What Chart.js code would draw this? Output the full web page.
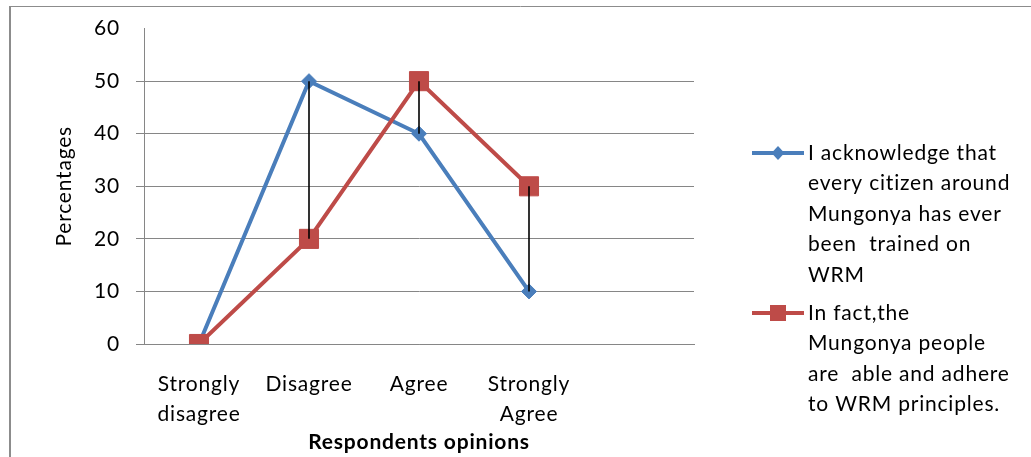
<!DOCTYPE html>
<html>
<head>
<meta charset="utf-8">
<script src="https://cdn.jsdelivr.net/npm/chart.js@4"></script>
<style>
  html, body { margin: 0; padding: 0; background: #ffffff; }
  #wrap { position: relative; width: 1031px; height: 457px; }
</style>
</head>
<body>
<div id="wrap"><canvas id="chart" width="1031" height="457"></canvas></div>
<script>
// Survey responses (percent of respondents per opinion)
const categories = [['Strongly', 'disagree'], 'Disagree', 'Agree', ['Strongly', 'Agree'], ''];
const acknowledgeValues = [0, 50, 40, 10, null];
const adhereValues = [0, 20, 50, 30, null];
const yTickValues = [0, 10, 20, 30, 40, 50, 60];
const acknowledgeName = ['I acknowledge that', 'every citizen around', 'Mungonya has ever', 'been  trained on', 'WRM'];
const adhereName = ['In fact,the', 'Mungonya people', 'are  able and adhere', 'to WRM principles.'];
const xAxisTitle = 'Respondents opinions';
const yAxisTitle = 'Percentages';

const FONT = 'Lato';
const FONT_SIZE = 21;
const SPACING = '0.8px';
const BLUE = '#4A7EBB';
const RED = '#BE4B48';
const GRID = '#868686';

// Outer frame of the chart object
const framePlugin = {
  id: 'frame',
  beforeDraw(chart) {
    const ctx = chart.ctx;
    ctx.letterSpacing = SPACING;
    ctx.save();
    ctx.strokeStyle = '#8c8c8c';
    ctx.lineWidth = 2;
    ctx.beginPath();
    ctx.moveTo(10, 6);
    ctx.lineTo(10, chart.height);
    ctx.stroke();
    ctx.lineWidth = 1;
    ctx.beginPath();
    ctx.moveTo(10, 6.5);
    ctx.lineTo(chart.width, 6.5);
    ctx.stroke();
    ctx.restore();
  }
};

// High-low lines joining the two series at each category
const dropLinePlugin = {
  id: 'dropLines',
  afterDatasetsDraw(chart) {
    const a = chart.getDatasetMeta(0).data;
    const b = chart.getDatasetMeta(1).data;
    const ctx = chart.ctx;
    ctx.save();
    ctx.strokeStyle = '#000000';
    ctx.lineWidth = 1.6;
    for (let i = 0; i < categories.length; i++) {
      if (acknowledgeValues[i] == null || adhereValues[i] == null) continue;
      if (!a[i] || !b[i]) continue;
      ctx.beginPath();
      ctx.moveTo(a[i].x, a[i].y);
      ctx.lineTo(b[i].x, b[i].y);
      ctx.stroke();
    }
    ctx.restore();
  }
};

// Legend with wrapped series names on the right
const sideLegendPlugin = {
  id: 'sideLegend',
  afterDraw(chart) {
    const ctx = chart.ctx;
    const items = [
      { lines: acknowledgeName, color: BLUE, style: 'diamond' },
      { lines: adhereName, color: RED, style: 'square' }
    ];
    const lineX0 = 752, lineX1 = 804, markX = 778, textX = 808;
    const lineH = 30.5;
    let y = 153;
    ctx.save();
    ctx.letterSpacing = SPACING;
    ctx.font = FONT_SIZE + 'px ' + FONT;
    ctx.textBaseline = 'middle';
    ctx.textAlign = 'left';
    items.forEach(item => {
      ctx.strokeStyle = item.color;
      ctx.fillStyle = item.color;
      ctx.lineWidth = 4;
      ctx.beginPath();
      ctx.moveTo(lineX0, y);
      ctx.lineTo(lineX1, y);
      ctx.stroke();
      ctx.beginPath();
      if (item.style === 'diamond') {
        ctx.moveTo(markX - 6.5, y);
        ctx.lineTo(markX, y - 7);
        ctx.lineTo(markX + 6.5, y);
        ctx.lineTo(markX, y + 7);
        ctx.closePath();
      } else {
        ctx.rect(markX - 8, y - 8, 16, 16);
      }
      ctx.fill();
      ctx.fillStyle = '#000000';
      item.lines.forEach((t, k) => {
        ctx.fillText(t, textX, y + k * lineH);
      });
      y += item.lines.length * lineH + 7.5;
    });
    ctx.restore();
  }
};

new Chart(document.getElementById('chart'), {
  type: 'line',
  data: {
    labels: categories,
    datasets: [
      {
        label: acknowledgeName.join(' '),
        data: acknowledgeValues,
        borderColor: BLUE,
        backgroundColor: BLUE,
        borderWidth: 4,
        pointStyle: 'rectRot',
        pointRadius: 7.5,
        pointBorderWidth: 1,
        tension: 0,
        order: 1
      },
      {
        label: adhereName.join(' '),
        data: adhereValues,
        borderColor: RED,
        backgroundColor: RED,
        borderWidth: 4,
        pointStyle: 'rect',
        pointRadius: 13.5,
        pointBorderWidth: 1,
        tension: 0,
        order: 0
      }
    ]
  },
  options: {
    responsive: false,
    animation: false,
    devicePixelRatio: 1,
    layout: { padding: { left: 48, top: 26, right: 337, bottom: 0 } },
    plugins: {
      legend: { display: false },
      tooltip: { enabled: false }
    },
    scales: {
      x: {
        type: 'category',
        offset: true,
        grid: { display: false, drawTicks: false },
        border: { display: true, color: GRID, width: 1 },
        ticks: {
          autoSkip: false, maxRotation: 0, minRotation: 0, padding: 26,
          color: '#000000',
          font: { family: FONT, size: FONT_SIZE, lineHeight: 1.4 }
        },
        title: {
          display: true, text: xAxisTitle, color: '#000000',
          font: { family: FONT, size: FONT_SIZE, weight: 'bold' },
          padding: { top: 4, bottom: 2 }
        },
        afterFit(scale) { scale.height = 113; }
      },
      y: {
        min: 0, max: 60,
        afterBuildTicks(scale) { scale.ticks = yTickValues.map(v => ({ value: v })); },
        grid: {
          color: c => (c.tick && c.tick.value === 60) ? 'rgba(0,0,0,0)' : GRID,
          tickLength: 8, lineWidth: 1
        },
        border: { display: true, color: GRID, width: 1 },
        ticks: {
          padding: 16, color: '#000000',
          font: { family: FONT, size: FONT_SIZE }
        },
        title: {
          display: true, text: yAxisTitle, color: '#000000',
          font: { family: FONT, size: FONT_SIZE },
          padding: { top: 4, bottom: 4 }
        },
        afterFit(scale) { scale.width = 96; }
      }
    }
  },
  plugins: [framePlugin, dropLinePlugin, sideLegendPlugin]
});
</script>
</body>
</html>
